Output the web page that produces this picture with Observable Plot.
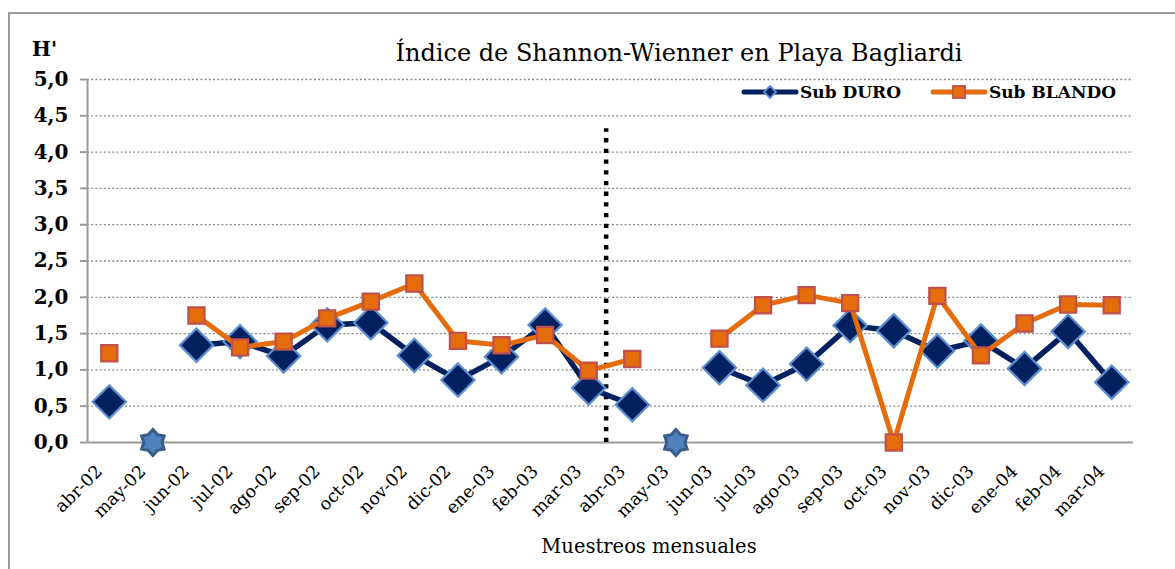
<!DOCTYPE html>
<html>
<head>
<meta charset="utf-8">
<script src="https://cdn.jsdelivr.net/npm/d3@7"></script>
<script src="https://cdn.jsdelivr.net/npm/@observablehq/plot@0.6"></script>
<style>
  html, body { margin: 0; padding: 0; background: #fff; }
  #wrap { position: relative; width: 1175px; height: 569px; overflow: hidden; font-family: "DejaVu Serif", serif; }
  #frame { position: absolute; left: 8px; top: 12px; width: 1300px; height: 700px; border-left: 2px solid #9a9a9a; border-top: 2px solid #9a9a9a; }
  .abs { position: absolute; white-space: nowrap; color: #000; font-family: "DejaVu Serif", serif; }
  #chart { position: absolute; left: 0; top: 0; }
</style>
</head>
<body>
<div id="wrap">
  <div id="frame"></div>
  <div id="chart"></div>
  <div class="abs" id="title" style="left:0; width:1358px; text-align:center; top:39px; font-size:24px;">Índice de Shannon-Wienner en Playa Bagliardi</div>
  <div class="abs" style="left:32px; top:37px; font-size:20px; font-weight:bold;">H'</div>
  <div class="abs" style="left:0; width:1298px; text-align:center; top:535px; font-size:19.5px;">Muestreos mensuales</div>
  <div class="abs" id="legend" style="left:740px; top:82px; font-size:17px; font-weight:bold; display:flex; align-items:center;"></div>
</div>
<script>
// Categorías (muestreos mensuales)
const categorias = ["abr-02","may-02","jun-02","jul-02","ago-02","sep-02","oct-02","nov-02","dic-02","ene-03","feb-03","mar-03",
                    "abr-03","may-03","jun-03","jul-03","ago-03","sep-03","oct-03","nov-03","dic-03","ene-04","feb-04","mar-04"];
// Índice H' – Sub DURO
const subDuro = [0.56, null, 1.34, 1.39, 1.19, 1.62, 1.65, 1.20, 0.86, 1.18, 1.62, 0.75,
                 0.52, null, 1.03, 0.79, 1.08, 1.61, 1.54, 1.26, 1.40, 1.02, 1.53, 0.83];
// Índice H' – Sub BLANDO
const subBlando = [1.23, null, 1.75, 1.31, 1.39, 1.71, 1.94, 2.19, 1.40, 1.34, 1.48, 0.99,
                   1.15, null, 1.43, 1.89, 2.03, 1.92, 0.00, 2.02, 1.20, 1.64, 1.90, 1.89];
// Meses sin muestreo (marcador estrella en 0)
const sinMuestreo = ["may-02", "may-03"];
// Ticks del eje Y
const yTicks = [0, 0.5, 1, 1.5, 2, 2.5, 3, 3.5, 4, 4.5, 5];
// Línea divisoria entre periodos
const divisoria = {entre: ["mar-03", "abr-03"], hasta: 4.32};

const duroData = categorias.map((c, i) => ({c, v: subDuro[i]}));
const blandoData = categorias.map((c, i) => ({c, v: subBlando[i]}));

const navy = "#002060", lightBlue = "#5b8fd0", orange = "#e46c0a", redEdge = "#c0504d";

const star6 = {
  draw(context, size) {
    const R = Math.sqrt(size / Math.PI), r = R * 0.7;
    for (let k = 0; k < 12; k++) {
      const a = -Math.PI / 2 + k * Math.PI / 6;
      const rr = k % 2 === 0 ? R : r;
      const x = rr * Math.cos(a), y = rr * Math.sin(a);
      if (k === 0) context.moveTo(x, y); else context.lineTo(x, y);
    }
    context.closePath();
  }
};

const fmt = d => d.toFixed(1).replace(".", ",");

const W = 1175, ML = 87, MR = 42;
const step = (W - ML - MR) / categorias.length;
const i0 = categorias.indexOf(divisoria.entre[0]);

const plot = Plot.plot({
  width: W,
  height: 569,
  marginLeft: ML,
  marginRight: MR,
  marginTop: 79,
  marginBottom: 127,
  style: {fontFamily: "DejaVu Serif, serif", background: "transparent"},
  x: {type: "point", domain: categorias, padding: 0.5, round: false, axis: null},
  y: {domain: [0, 5], axis: null},
  marks: [
    Plot.gridY(yTicks.filter(d => d > 0), {stroke: "#8a8a8a", strokeOpacity: 1, strokeWidth: 1.3, strokeDasharray: "2,2.2"}),
    Plot.ruleY([0], {stroke: "#9a9a9a", strokeWidth: 2}),
    Plot.ruleX([categorias[0]], {x: d => d, y1: 0, y2: 5, dx: -step / 2, stroke: "#9a9a9a", strokeWidth: 2}),
    Plot.axisY({ticks: yTicks, tickFormat: fmt, tickSize: 7, tickPadding: 12, stroke: "#9a9a9a", strokeWidth: 2, fontSize: 20, fontWeight: "bold", label: null}),
    Plot.text(categorias, {x: d => d, y: 0, text: d => d, rotate: -45, textAnchor: "end", dx: -10, dy: 26, fontSize: 17.5, fill: "#000"}),
    Plot.ruleX([categorias[i0]], {x: d => d, y1: 0, y2: divisoria.hasta, dx: step * 0.4, stroke: "#000", strokeWidth: 4.5, strokeDasharray: "4.3,6.4"}),
    Plot.lineY(duroData, {x: "c", y: "v", stroke: navy, strokeWidth: 5.5, curve: "linear"}),
    Plot.dot(duroData.filter(d => d.v != null), {x: "c", y: "v", symbol: "diamond2", r: 15, fill: navy, stroke: lightBlue, strokeWidth: 2.2}),
    Plot.dot(sinMuestreo, {x: d => d, y: 0, symbol: star6, r: 13, fill: "#4f81bd", stroke: "#385d8a", strokeWidth: 3}),
    Plot.lineY(blandoData, {x: "c", y: "v", stroke: orange, strokeWidth: 5}),
    Plot.dot(blandoData.filter(d => d.v != null), {x: "c", y: "v", symbol: "square2", r: 10.3, fill: orange, stroke: redEdge, strokeWidth: 2.2})
  ]
});
document.getElementById("chart").appendChild(plot);

// Leyenda
const legend = document.getElementById("legend");
const items = [
  {label: "Sub DURO", color: navy, marker: "diamond"},
  {label: "Sub BLANDO", color: orange, marker: "square"}
];
items.forEach((it, idx) => {
  const sw = document.createElementNS("http://www.w3.org/2000/svg", "svg");
  sw.setAttribute("width", 60); sw.setAttribute("height", 20);
  let marker;
  if (it.marker === "diamond") {
    marker = `<path d="M30,4 L36,10 L30,16 L24,10 Z" fill="${navy}" stroke="${lightBlue}" stroke-width="1.8"/>`;
  } else {
    marker = `<rect x="24" y="4" width="12" height="12" fill="${orange}" stroke="${redEdge}" stroke-width="1.8"/>`;
  }
  sw.innerHTML = `<line x1="4" y1="10" x2="56" y2="10" stroke="${it.color}" stroke-width="5" stroke-linecap="round"/>` + marker;
  const span = document.createElement("span");
  span.textContent = it.label;
  span.style.marginRight = idx === 0 ? "28px" : "0";
  legend.appendChild(sw);
  legend.appendChild(span);
});
</script>
</body>
</html>
